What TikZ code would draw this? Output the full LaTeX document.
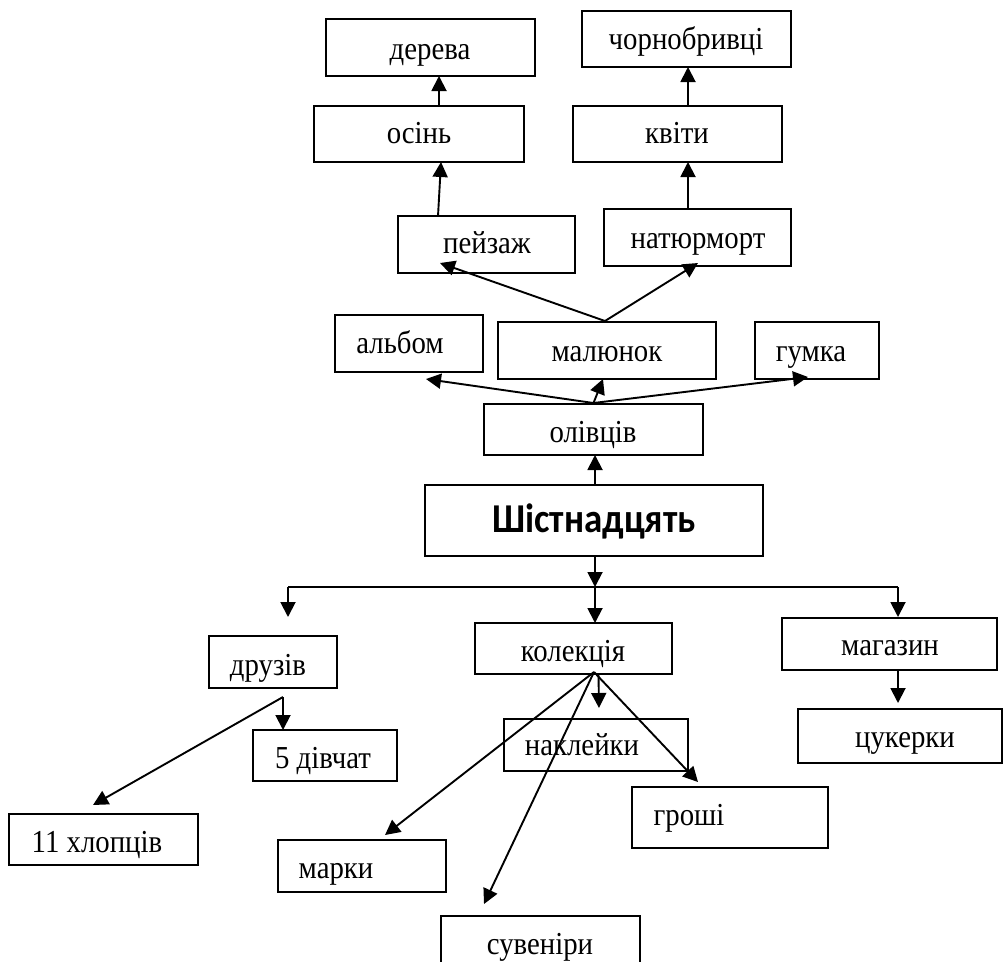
\documentclass[tikz,border=0pt]{standalone}
\usepackage{fontspec}
\setmainfont{Liberation Serif}[FakeStretch=0.9]
\newfontfamily\bsans{Carlito}[FakeStretch=0.9]
\usetikzlibrary{arrows.meta}
\newcommand\mybox[5]{\node[box,minimum width=#4pt,minimum height=#5pt] (#1) at (#2,#3) {};}
\begin{document}
\begin{tikzpicture}[x=1pt,y=-1pt,
  box/.style={draw,line width=1.9pt,inner sep=0pt,outer sep=0pt},
  lbl/.style={anchor=base,inner sep=0pt,font=\fontsize{32}{38}\selectfont},
  bold/.style={anchor=base,inner sep=0pt,font=\bsans\bfseries\fontsize{41}{48}\selectfont},
  ln/.style={line width=1.9pt},
  arr/.style={line width=1.9pt,-{Triangle[length=15pt,width=15pt]}}]
\useasboundingbox (0,0) rectangle (1003,961);
% boxes
\mybox{derevo}{430.5}{47.5}{209}{57}
\mybox{osin}{419}{134}{210}{56}
\mybox{chorno}{686.5}{39}{209}{56}
\mybox{kvity}{677.5}{134}{209}{56}
\mybox{peizazh}{486.5}{244.5}{177}{57}
\mybox{natiurmort}{697.5}{237.5}{187}{57}
\mybox{albom}{409}{343.5}{148}{57}
\mybox{maliunok}{607}{350.5}{218}{57}
\mybox{humka}{817}{350.5}{124}{57}
\mybox{olivtsiv}{593.5}{429.5}{219}{51}
\mybox{shist}{594}{520.5}{338}{71}
\mybox{druziv}{273}{662}{128}{52}
\mybox{divchat}{325}{755.5}{144}{51}
\mybox{khloptsiv}{103.5}{839.5}{189}{51}
\mybox{marky}{362}{866}{168}{52}
\mybox{kolektsiia}{573.5}{648.5}{197}{51}
\mybox{nakleiky}{596}{745}{184}{52}
\mybox{hroshi}{730}{817.5}{196}{61}
\mybox{suveniry}{540.5}{946}{199}{60}
\mybox{mahazyn}{889.5}{644}{215}{52}
\mybox{tsukerky}{900}{736}{204}{54}
% texts
\node[lbl] (tderevo) at (430,59) {дерева};
\node[lbl] (tosin) at (419,143) {осінь};
\node[lbl] (tchorno) at (686,49) {чорнобривці};
\node[lbl] (tkvity) at (677,143) {квіти};
\node[lbl] (tpeizazh) at (487,253) {пейзаж};
\node[lbl] (tnatiurmort) at (698,248) {натюрморт};
\node[lbl] (talbom) at (400,353) {альбом};
\node[lbl] (tmaliunok) at (607,361) {малюнок};
\node[lbl] (thumka) at (811,361) {гумка};
\node[lbl] (tolivtsiv) at (593,442) {олівців};
\node[bold] (tshist) at (594,532) {Шістнадцять};
\node[lbl] (tdruziv) at (268,675) {друзів};
\node[lbl] (tdivchat) at (323,768) {5 дівчат};
\node[lbl] (tkhloptsiv) at (97,852) {11 хлопців};
\node[lbl] (tmarky) at (336,878) {марки};
\node[lbl] (tkolektsiia) at (573,661) {колекція};
\node[lbl] (tnakleiky) at (582,755) {наклейки};
\node[lbl] (throshi) at (689,825) {гроші};
\node[lbl] (tsuveniry) at (540,954) {сувеніри};
\node[lbl] (tmahazyn) at (890,655) {магазин};
\node[lbl] (ttsukerky) at (905,747) {цукерки};
% coordinates
\coordinate (bus) at (595,587);
\coordinate (busL) at (288,587);
\coordinate (busR) at (898,587);
\coordinate (mtop) at (605,321);
\coordinate (otop) at (593.5,403);
\coordinate (dbr) at (283,697);
\coordinate (kbr) at (594,672);
% connectors top
\draw[arr] ([shift={(20,0)}]osin.north) -- ([shift={(8.5,0)}]derevo.south);
\draw[arr] ([shift={(-48.5,0)}]peizazh.north) -- ([shift={(22,0)}]osin.south);
\draw[arr] ([shift={(10.5,0)}]kvity.north) -- ([shift={(1.5,0)}]chorno.south);
\draw[arr] ([shift={(-9.5,0)}]natiurmort.north) -- ([shift={(10.5,0)}]kvity.south);
\draw[arr] (mtop) -- ([shift={(-46.5,-10)}]peizazh.south);
\draw[arr] (mtop) -- ([shift={(0.5,-3)}]natiurmort.south);
\draw[arr] (otop) -- ([shift={(17,7)}]albom.south);
\draw[arr] (otop) -- ([shift={(-4,0)}]maliunok.south);
\draw[arr] (otop) -- ([shift={(-9,-2)}]humka.south);
\draw[arr] ([shift={(1,0)}]shist.north) -- ([shift={(1.5,0)}]olivtsiv.south);
% lower part
\draw[arr] ([shift={(1,0)}]shist.south) -- (bus);
\draw[ln] (busL) -- (busR);
\draw[arr] (busL) -- ([shift={(15,-19)}]druziv.north);
\draw[arr] (bus) -- ([shift={(21.5,0)}]kolektsiia.north);
\draw[arr] (busR) -- ([shift={(8.5,-1)}]mahazyn.north);
\draw[arr] (dbr) -- ([shift={(-42,0)}]divchat.north);
\draw[arr] (dbr) -- ([shift={(-10.5,-9)}]khloptsiv.north);
\draw[ln] ([shift={(10,9)}]druziv.south) -- (dbr);
\draw[arr] ([shift={(25,0)}]kolektsiia.south) -- ([shift={(3,-11)}]nakleiky.north);
\draw[arr] (kbr) -- ([shift={(-32,-5)}]hroshi.north);
\draw[arr] (kbr) -- ([shift={(-56.5,-12)}]suveniry.north);
\draw[arr] (kbr) -- ([shift={(23,-5)}]marky.north);
\draw[arr] ([shift={(8.5,0)}]mahazyn.south) -- ([shift={(-2,-6)}]tsukerky.north);
\end{tikzpicture}
\end{document}
